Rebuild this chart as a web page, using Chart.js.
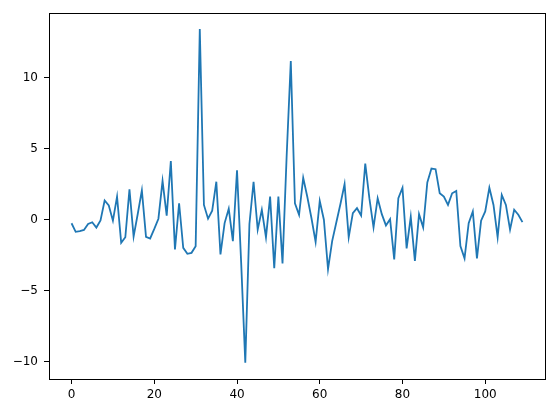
<!DOCTYPE html>
<html>
<head>
<meta charset="utf-8">
<script src="https://cdn.jsdelivr.net/npm/chart.js@4/dist/chart.umd.min.js"></script>
<style>
  body { margin: 0; background: #fff; }
  canvas { display: block; }
</style>
</head>
<body>
<canvas id="chart" width="554" height="413"></canvas>
<script>
// values, one per x index 0..109
const values = [
  -0.25, -0.85, -0.8, -0.72, -0.3, -0.18, -0.55, -0.05, 1.35, 1.0,
  -0.07, 1.62, -1.63, -1.23, 2.13, -1.19, 0.4, 2.06, -1.2, -1.32,
  -0.65, 0.07, 2.72, 0.28, 4.13, -2.09, 1.16, -1.98, -2.4, -2.33,
  -1.86, 13.4, 1.04, 0.07, 0.63, 2.67, -2.44, -0.24, 0.77, -1.51,
  3.48, -3.0, -10.05, -0.3, 2.67, -0.7, 0.7, -1.23, 1.62, -3.41,
  1.62, -3.07, 4.5, 11.15, 1.16, 0.35, 2.95, 1.6, 0.1, -1.56,
  1.32, 0.0, -3.48, -1.5, -0.2, 1.1, 2.5, -1.23, 0.46, 0.81,
  0.3, 3.95, 1.5, -0.54, 1.51, 0.39, -0.4, 0.04, -2.79, 1.51,
  2.25, -2.02, 0.2, -2.9, 0.39, -0.54, 2.62, 3.6, 3.55, 1.86,
  1.62, 1.04, 1.86, 2.02, -1.86, -2.72, -0.24, 0.58, -2.72, -0.07,
  0.58, 2.25, 1.04, -1.23, 1.74, 1.04, -0.7, 0.7, 0.35, -0.17
];

const xTicks = [0, 20, 40, 60, 80, 100];
const yTicks = [-10, -5, 0, 5, 10];

const points = values.map((v, i) => ({ x: i, y: v }));

// matplotlib-like box around the plot area
const frame = {
  id: "frame",
  afterDraw(chart) {
    const a = chart.chartArea;
    const ctx = chart.ctx;
    ctx.save();
    ctx.strokeStyle = "#000";
    ctx.lineWidth = 1;
    ctx.strokeRect(Math.round(a.left) + 0.5, Math.round(a.top) + 0.5,
      Math.round(a.right - a.left), Math.round(a.bottom - a.top));
    ctx.restore();
  }
};

const tickFont = { family: "DejaVu Sans", size: 12 };
const minus = v => String(v).replace("-", "\u2212");

new Chart(document.getElementById("chart"), {
  type: "line",
  data: {
    datasets: [{
      data: points,
      borderColor: "#1f77b4",
      borderWidth: 1.8,
      pointRadius: 0,
      tension: 0,
      fill: false
    }]
  },
  options: {
    responsive: false,
    animation: false,
    layout: { padding: { left: 0, top: 10, right: 9, bottom: 0 } },
    plugins: { legend: { display: false }, tooltip: { enabled: false } },
    scales: {
      x: {
        type: "linear",
        min: -5.45,
        max: 114.45,
        afterBuildTicks: s => { s.ticks = xTicks.map(v => ({ value: v })); },
        afterFit: s => { s.height = 34; },
        grid: { display: true, drawOnChartArea: false, drawTicks: true, tickLength: 5, color: "#000" },
        border: { display: true, color: "#000" },
        ticks: { color: "#000", font: tickFont, padding: 4, maxRotation: 0, callback: minus }
      },
      y: {
        min: -11.2,
        max: 14.52,
        afterBuildTicks: s => { s.ticks = yTicks.map(v => ({ value: v })); },
        afterFit: s => { s.width = 49; },
        grid: { display: true, drawOnChartArea: false, drawTicks: true, tickLength: 5, color: "#000" },
        border: { display: true, color: "#000" },
        ticks: { color: "#000", font: tickFont, padding: 6, callback: minus }
      }
    }
  },
  plugins: [frame]
});
</script>
</body>
</html>
